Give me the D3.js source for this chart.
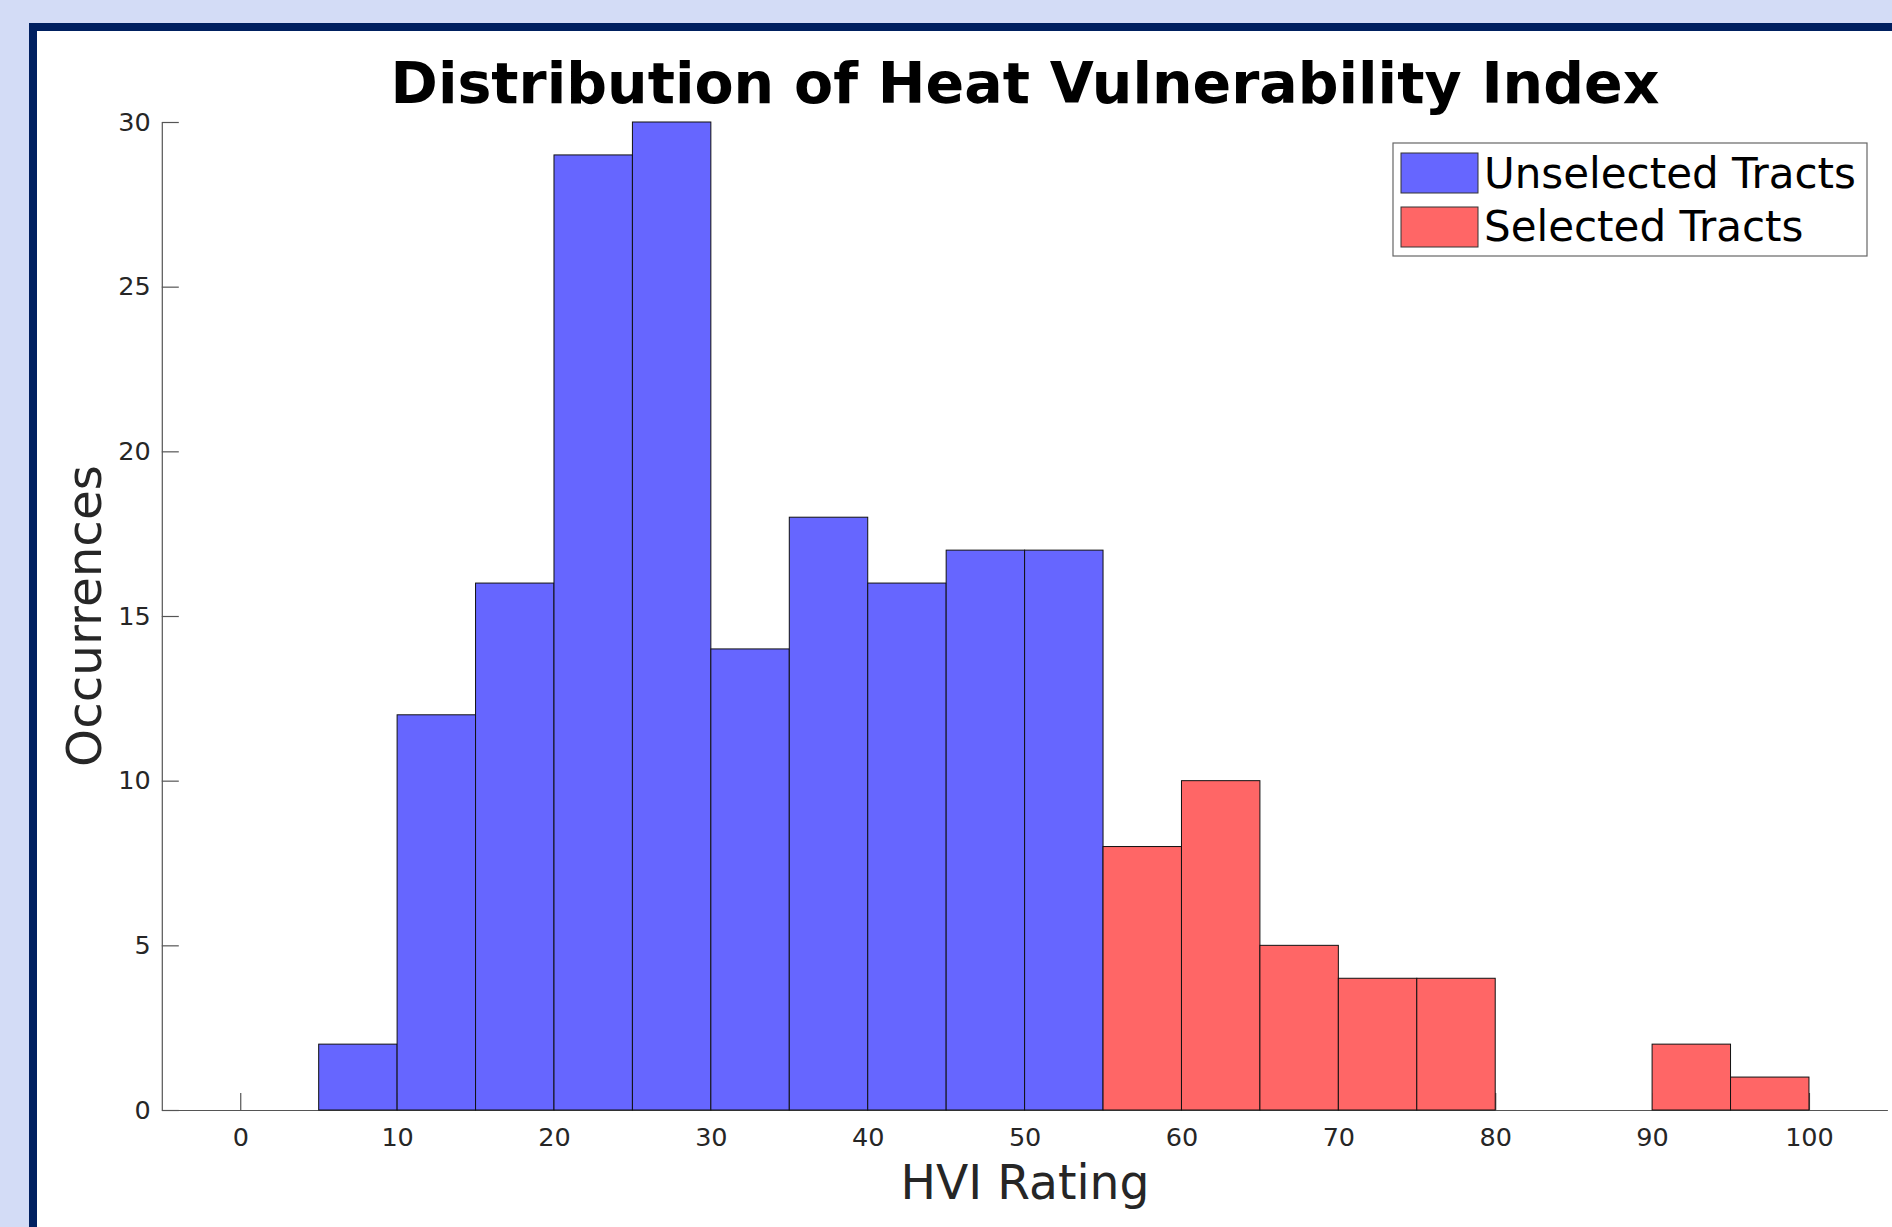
<!DOCTYPE html>
<html>
<head>
<meta charset="utf-8">
<script src="https://d3js.org/d3.v7.min.js"></script>
<style>
  body { margin: 0; background: #d3dcf6; }
  svg { display: block; }
</style>
</head>
<body>
<div id="hist"></div>
<script>
// Histogram of HVI ratings, bins of 5

// bin left edges and counts
const binStarts = [5, 10, 15, 20, 25, 30, 35, 40, 45, 50, 55, 60, 65, 70, 75, 80, 85, 90, 95];
const unselectedCounts = [2, 12, 16, 29, 30, 14, 18, 16, 17, 17, 0, 0, 0, 0, 0, 0, 0, 0, 0];
const selectedCounts = [0, 0, 0, 0, 0, 0, 0, 0, 0, 0, 8, 10, 5, 4, 4, 0, 0, 2, 1];
const binWidth = 5;

const xTicks = [0, 10, 20, 30, 40, 50, 60, 70, 80, 90, 100];
const yTicks = [0, 5, 10, 15, 20, 25, 30];

const seriesNames = ["Unselected Tracts", "Selected Tracts"];
const seriesColors = ["#6666ff", "#ff6666"];

const chartWidth = 1892;
const chartHeight = 1227;
var margin = {top: 122, right: 4.6, bottom: 117, left: 161.8};

var svg = d3.select("#hist")
  .append("svg")
    .attr("width", chartWidth)
    .attr("height", chartHeight);

// framed white panel
svg.append("rect")
  .attr("x", 29).attr("y", 23)
  .attr("width", chartWidth).attr("height", chartHeight)
  .attr("fill", "#002060");
svg.append("rect")
  .attr("x", 37).attr("y", 31)
  .attr("width", chartWidth).attr("height", chartHeight)
  .attr("fill", "white");

var x = d3.scaleLinear()
  .domain([-5, 105])
  .range([margin.left, chartWidth - margin.right]);

var y = d3.scaleLinear()
  .domain([0, 30])
  .range([chartHeight - margin.bottom, margin.top]);

// axes
var xAxis = svg.append("g")
  .attr("transform", "translate(0," + y(0) + ")")
  .call(d3.axisBottom(x).tickValues(xTicks).tickSizeInner(-17).tickSizeOuter(0).tickPadding(18));

var yAxis = svg.append("g")
  .attr("transform", "translate(" + x(-5) + ",0)")
  .call(d3.axisLeft(y).tickValues(yTicks).tickSizeInner(-17).tickSizeOuter(0).tickPadding(11));

[xAxis, yAxis].forEach(function(g) {
  g.selectAll("path, line").attr("stroke", "#555").attr("stroke-width", 1.2);
  g.selectAll("text")
    .attr("fill", "#262626")
    .style("font-family", "DejaVu Sans")
    .style("font-size", "25.5px");
});

// bars
var bins = binStarts.map(function(b, i) {
  return {x0: b, unselected: unselectedCounts[i], selected: selectedCounts[i]};
});

function drawBars(key, color) {
  svg.selectAll("bars-" + key)
    .data(bins.filter(function(d) { return d[key] > 0; }))
    .enter()
    .append("rect")
      .attr("x", function(d) { return x(d.x0); })
      .attr("y", function(d) { return y(d[key]); })
      .attr("width", function(d) { return x(d.x0 + binWidth) - x(d.x0); })
      .attr("height", function(d) { return y(0) - y(d[key]); })
      .attr("fill", color)
      .attr("stroke", "#111")
      .attr("stroke-width", 1);
}
drawBars("unselected", seriesColors[0]);
drawBars("selected", seriesColors[1]);

// title and axis labels
svg.append("text")
  .attr("x", 1025).attr("y", 103)
  .attr("text-anchor", "middle")
  .style("font-family", "DejaVu Sans")
  .style("font-weight", "bold")
  .style("font-size", "57px")
  .attr("fill", "black")
  .text("Distribution of Heat Vulnerability Index");

svg.append("text")
  .attr("x", 1025).attr("y", 1199)
  .attr("text-anchor", "middle")
  .style("font-family", "DejaVu Sans")
  .style("font-size", "47.2px")
  .attr("fill", "#262626")
  .text("HVI Rating");

svg.append("text")
  .attr("transform", "translate(101," + (y(0) + y(30)) / 2 + ") rotate(-90)")
  .attr("text-anchor", "middle")
  .style("font-family", "DejaVu Sans")
  .style("font-size", "48.4px")
  .attr("fill", "#262626")
  .text("Occurrences");

// legend
var legend = svg.append("g").attr("transform", "translate(1393,143)");
legend.append("rect")
  .attr("width", 474).attr("height", 113)
  .attr("fill", "white")
  .attr("stroke", "#666").attr("stroke-width", 1.2);

seriesNames.forEach(function(name, i) {
  legend.append("rect")
    .attr("x", 8).attr("y", 10 + i * 54)
    .attr("width", 77).attr("height", 40)
    .attr("fill", seriesColors[i])
    .attr("stroke", "#333").attr("stroke-width", 1);
  legend.append("text")
    .attr("x", 91).attr("y", 45 + i * 53)
    .style("font-family", "DejaVu Sans")
    .style("font-size", "42px")
    .attr("fill", "black")
    .text(name);
});
</script>
</body>
</html>
